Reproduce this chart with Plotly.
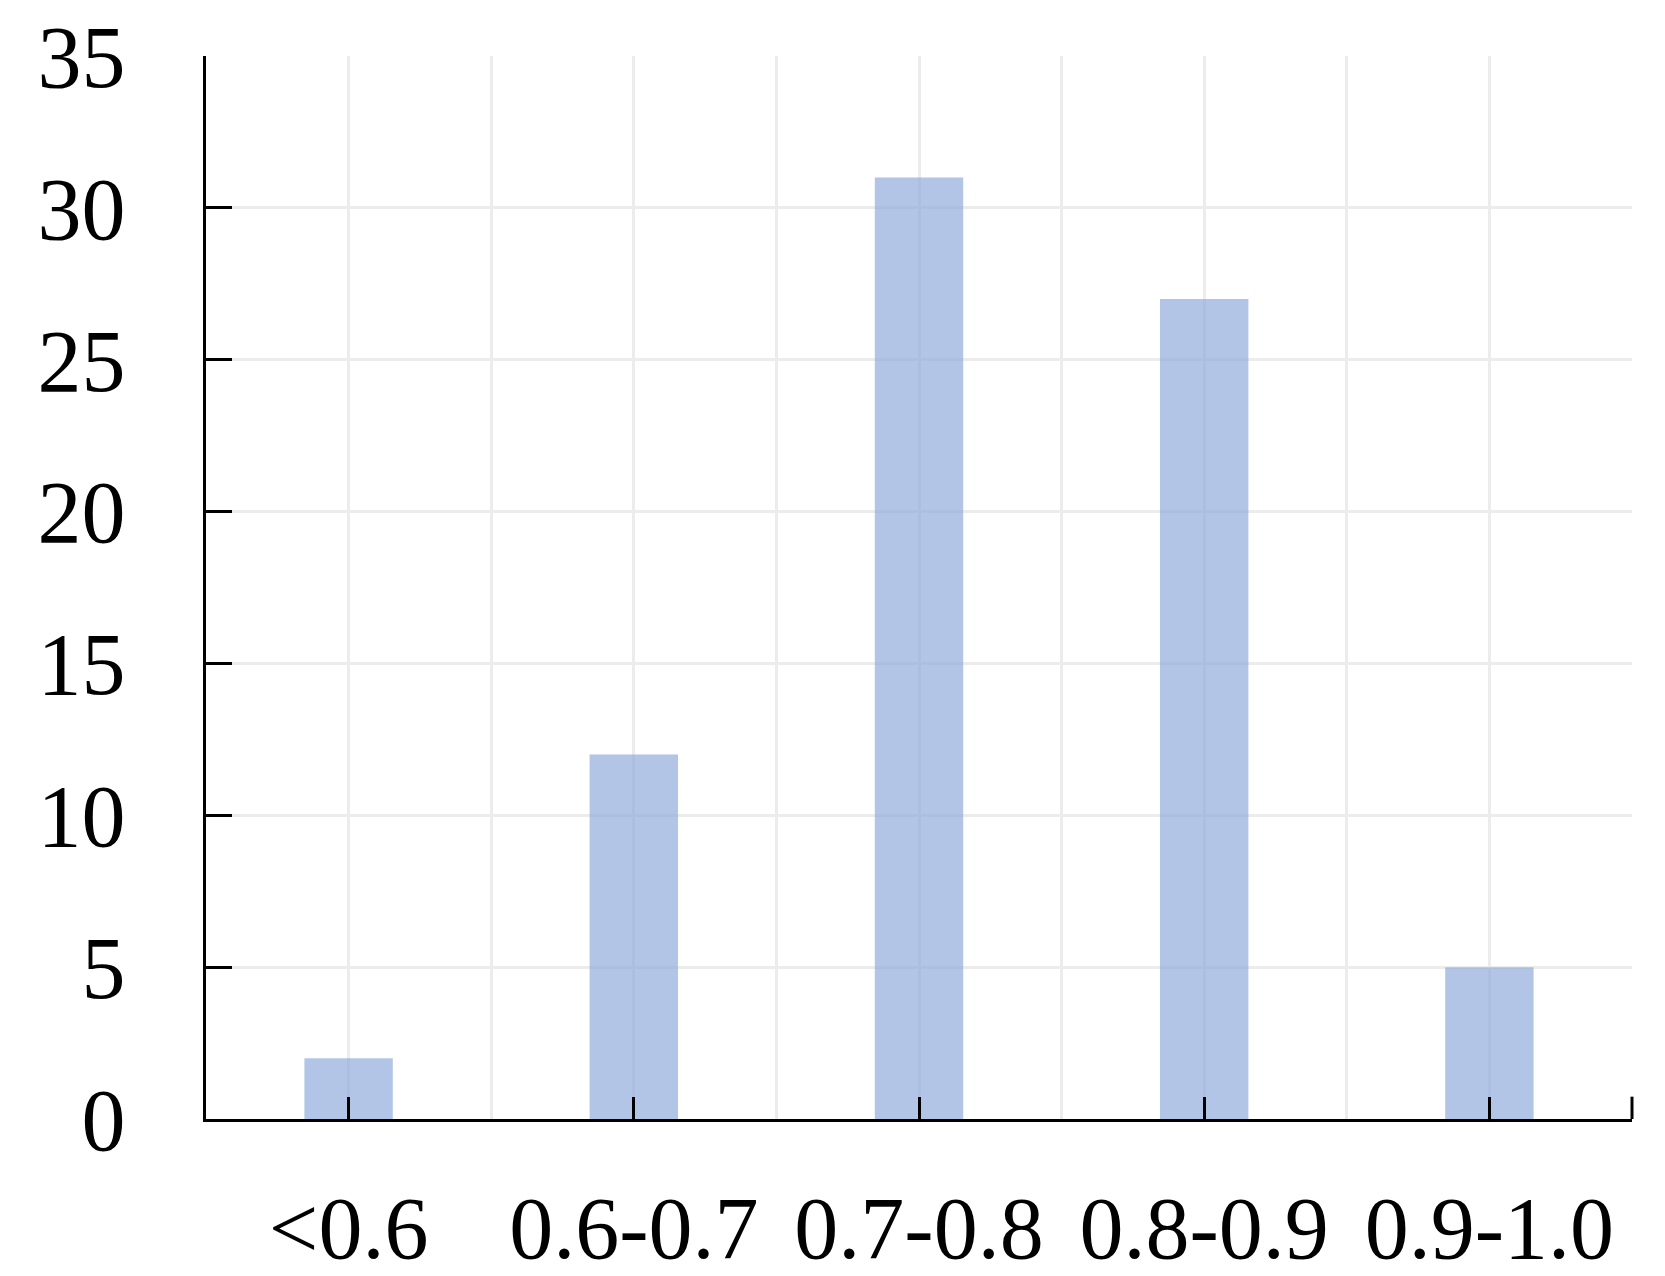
import plotly.graph_objects as go

categories = ["<0.6", "0.6-0.7", "0.7-0.8", "0.8-0.9", "0.9-1.0"]
counts = [2, 12, 31, 27, 5]
y_ticks = [0, 5, 10, 15, 20, 25, 30, 35]

FONT = "Liberation Serif, Times New Roman, serif"
GRID = "#ececec"

fig = go.Figure()
fig.add_trace(go.Bar(
    x=list(range(len(categories))), y=counts, width=0.31,
    marker=dict(color="rgba(143,170,220,0.68)", line=dict(width=0)),
    showlegend=False,
))

# closing tick at the right end of the x axis (axis decoration)
fig.add_shape(type="line", xref="x domain", yref="y domain",
              x0=1, x1=1, y0=0, y1=0.021,
              line=dict(color="black", width=3), layer="above")

fig.update_layout(
    width=1665, height=1276,
    margin=dict(l=198, r=41, t=48, b=165),
    paper_bgcolor="white", plot_bgcolor="white",
    font=dict(family=FONT, size=88, color="black"),
    xaxis=dict(
        range=[-0.5, 4.5], tickvals=list(range(len(categories))), ticktext=categories,
        ticks="inside", ticklen=22, tickwidth=3, tickcolor="black",
        showline=True, linecolor="black", linewidth=3,
        showgrid=True, gridcolor=GRID, gridwidth=3,
        minor=dict(tickvals=[0.5, 1.5, 2.5, 3.5, 4.5], showgrid=True, gridcolor=GRID, gridwidth=3),
        ticklabelstandoff=30, zeroline=False, automargin=False,
        tickfont=dict(family=FONT, size=88),
    ),
    yaxis=dict(
        range=[0, 35], tickvals=y_ticks,
        ticks="inside", ticklen=26, tickwidth=3, tickcolor="black",
        showline=True, linecolor="black", linewidth=3,
        showgrid=True, gridcolor=GRID, gridwidth=3, zeroline=False,
        ticklabelstandoff=60, automargin=False,
        tickfont=dict(family=FONT, size=88),
    ),
)

fig.write_html("out.html")
